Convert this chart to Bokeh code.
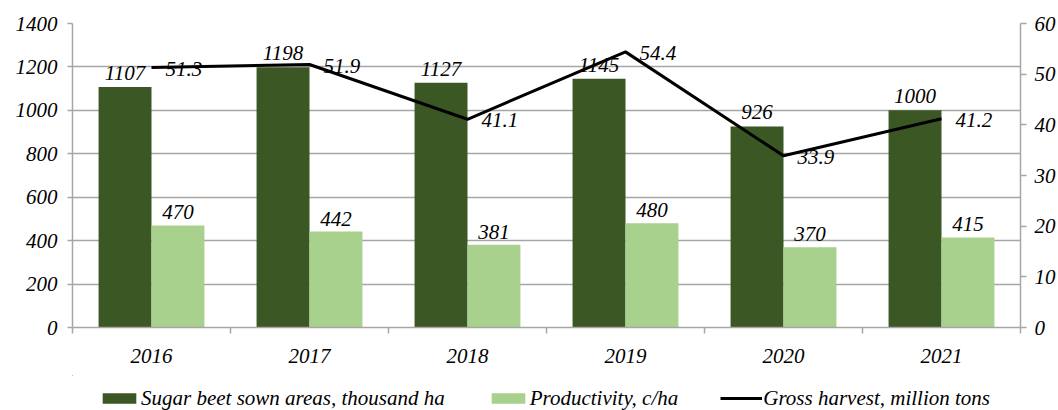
from bokeh.plotting import figure
from bokeh.layouts import column
from bokeh.models import (Range1d, LinearAxis, FixedTicker, ColumnDataSource,
                          Legend, LegendItem, CustomJSTickFormatter)
from bokeh.transform import dodge
from bokeh.core.properties import value
from bokeh.embed import file_html
from bokeh.resources import INLINE

# ---- data ----
years = ["2016", "2017", "2018", "2019", "2020", "2021"]
sown_area = [1107, 1198, 1127, 1145, 926, 1000]          # thousand ha
productivity = [470, 442, 381, 480, 370, 415]            # c/ha
gross_harvest = [51.3, 51.9, 41.1, 54.4, 33.9, 41.2]     # million tons
left_ticks = [0, 200, 400, 600, 800, 1000, 1200, 1400]
right_ticks = [0, 10, 20, 30, 40, 50, 60]
series_names = ["Sugar beet sown areas, thousand ha", "Productivity, c/ha",
                "Gross harvest, million tons"]

DARK = "#3B5724"
LIGHT = "#A9D18E"
GRID = "#A6A6A6"
FONT = "Liberation Serif"
FS = "21px"

xpos = [i + 0.5 for i in range(len(years))]
src = ColumnDataSource(dict(
    x=xpos, year=years, sown=sown_area, prod=productivity, harv=gross_harvest,
    sown_lbl=[str(v) for v in sown_area],
    prod_lbl=[str(v) for v in productivity],
    harv_lbl=[f"{v:.1f}" for v in gross_harvest],
))

p = figure(frame_width=948, frame_height=304,
           x_range=Range1d(0, len(years)),
           y_range=Range1d(left_ticks[0], left_ticks[-1]),
           output_backend="svg", toolbar_location=None,
           min_border_left=72, min_border_right=34, min_border_top=23,
           min_border_bottom=48)
p.outline_line_color = None
p.background_fill_color = "white"
p.border_fill_color = "white"
p.extra_y_ranges = {"right": Range1d(right_ticks[0], right_ticks[-1])}

BW = 0.335


def draw_series(fig):
    a = fig.vbar(x=dodge("x", -BW / 2, range=fig.x_range), top="sown", width=BW,
                 source=src, fill_color=DARK, line_color=None)
    b = fig.vbar(x=dodge("x", BW / 2, range=fig.x_range), top="prod", width=BW,
                 source=src, fill_color=LIGHT, line_color=None)
    c = fig.line("x", "harv", source=src, y_range_name="right",
                 line_color="black", line_width=3)
    return a, b, c


r_sown, r_prod, r_line = draw_series(p)

txt = dict(text_font=value(FONT), text_font_style="italic",
           text_font_size=FS, text_color="black")
p.text(x=dodge("x", -BW / 2, range=p.x_range), y="sown", text="sown_lbl",
       source=src, text_align="center", text_baseline="alphabetic",
       y_offset=-14, **txt)
p.text(x=dodge("x", BW / 2, range=p.x_range), y="prod", text="prod_lbl",
       source=src, text_align="center", text_baseline="alphabetic",
       y_offset=-13, **txt)
p.text(x="x", y="harv", text="harv_lbl", source=src, y_range_name="right",
       text_align="left", text_baseline="middle", x_offset=14, y_offset=1, **txt)


def style_axis(ax):
    ax.axis_line_color = GRID
    ax.axis_line_width = 1.5
    ax.major_tick_line_color = GRID
    ax.major_tick_line_width = 1.5
    ax.minor_tick_line_color = GRID
    ax.minor_tick_line_width = 1.5
    ax.major_label_text_font = FONT
    ax.major_label_text_font_style = "italic"
    ax.major_label_text_font_size = FS
    ax.major_label_text_color = "black"


yl = p.yaxis[0]
yl.ticker = FixedTicker(ticks=left_ticks)
style_axis(yl)
yl.major_tick_in = 0
yl.major_tick_out = 5
yl.minor_tick_in = 0
yl.minor_tick_out = 0
yl.major_label_standoff = 10

yr = LinearAxis(y_range_name="right", ticker=FixedTicker(ticks=right_ticks))
style_axis(yr)
yr.major_tick_in = 0
yr.major_tick_out = 6
yr.minor_tick_in = 0
yr.minor_tick_out = 0
yr.major_label_standoff = 8
p.add_layout(yr, "right")

xa = p.xaxis[0]
xa.ticker = FixedTicker(ticks=xpos, minor_ticks=list(range(len(years) + 1)))
xa.formatter = CustomJSTickFormatter(args=dict(years=years),
                                     code="return years[Math.floor(tick)];")
style_axis(xa)
xa.major_tick_in = 0
xa.major_tick_out = 0
xa.minor_tick_in = 0
xa.minor_tick_out = 6
xa.major_label_standoff = 15

p.xgrid.grid_line_color = None
p.ygrid.ticker = FixedTicker(ticks=left_ticks)
p.ygrid.grid_line_color = GRID
p.ygrid.grid_line_width = 1.5

# ---- legend strip (same series drawn outside its visible ranges) ----
leg = figure(width=1054, height=46, x_range=Range1d(100, 101),
             y_range=Range1d(-10, -9), output_backend="svg",
             toolbar_location=None, min_border_left=28, min_border_right=0,
             min_border_top=0, min_border_bottom=0)
leg.extra_y_ranges = {"right": Range1d(-10, -9)}
leg.axis.visible = False
leg.xgrid.grid_line_color = None
leg.ygrid.grid_line_color = None
leg.outline_line_color = None
l_sown, l_prod, l_line = draw_series(leg)

legend = Legend(items=[
    LegendItem(label=series_names[0], renderers=[l_sown]),
    LegendItem(label=series_names[1], renderers=[l_prod]),
    LegendItem(label=series_names[2], renderers=[l_line]),
], orientation="horizontal", location="center",
    label_text_font=FONT, label_text_font_style="italic",
    label_text_font_size=FS, label_text_color="black",
    glyph_width=42, glyph_height=13, label_standoff=1, spacing=42,
    border_line_color=None, background_fill_alpha=0, padding=0, margin=0)
leg.add_layout(legend, "center")

layout = column(p, leg, spacing=0)
open("out.html", "w").write(file_html(layout, INLINE))
